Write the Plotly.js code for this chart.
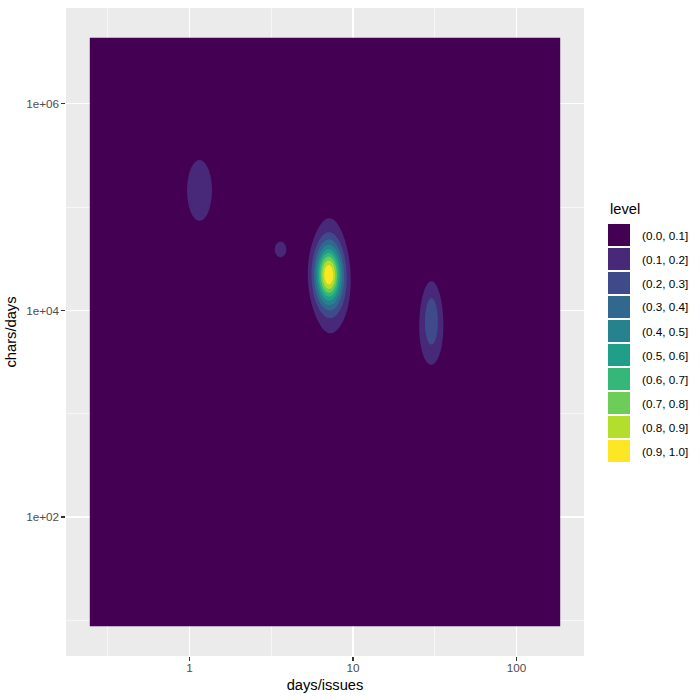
<!DOCTYPE html>
<html><head><meta charset="utf-8">
<script src="https://cdn.plot.ly/plotly-3.0.1.min.js"></script>
<style>body{margin:0;background:#fff}#chart{width:700px;height:700px}</style>
</head><body><div id="chart"></div>
<script>
// observed extent of the data
const daysExtent  = [0.2445, 185.8];     // days/issues
const charsExtent = [8.7, 4400000];      // chars/days

// density peaks (location, relative height, spread in decades)
const peakDays       = [7.08, 7.18, 8.63, 1.151, 3.603, 30.2, 29.8];
const peakChars      = [22320, 21830, 12780, 145300, 38980, 8550, 5240];
const peakHeight     = [1.0, 0.30, 0.05, 0.22, 0.15, 0.28, 0.10];
const spreadDaysDec  = [0.055, 0.073, 0.055, 0.0746, 0.067, 0.043, 0.098];
const spreadCharsDec = [0.184, 0.407, 0.213, 0.288, 0.145, 0.252, 0.339];

// contour levels
const levelBreaks = [0.1, 0.2, 0.3, 0.4, 0.5, 0.6, 0.7, 0.8, 0.9];
const levelLabels = ["(0.0, 0.1]", "(0.1, 0.2]", "(0.2, 0.3]", "(0.3, 0.4]", "(0.4, 0.5]",
                     "(0.5, 0.6]", "(0.6, 0.7]", "(0.7, 0.8]", "(0.8, 0.9]", "(0.9, 1.0]"];
const levelColors = ["#440154", "#482878", "#3E4A89", "#31688E", "#26828E",
                     "#1F9E89", "#35B779", "#6DCD59", "#B4DE2C", "#FDE725"];

// axis ticks
const xTickVals = [1, 10, 100];
const xTickText = ["1", "10", "100"];
const yTickVals = [100, 10000, 1000000];
const yTickText = ["1e+02", "1e+04", "1e+06"];

// ---- build density grid on log10 scale ----
const L = Math.log10;
const N = 320;
const xlo = L(daysExtent[0]), xhi = L(daysExtent[1]);
const ylo = L(charsExtent[0]), yhi = L(charsExtent[1]);
const gx = [], gy = [];
for (let i = 0; i < N; i++) { gx.push(xlo + (xhi - xlo) * i / (N - 1)); gy.push(ylo + (yhi - ylo) * i / (N - 1)); }
const px = peakDays.map(L), py = peakChars.map(L);
let z = [], zmax = 0;
for (let j = 0; j < N; j++) {
  const row = [];
  for (let i = 0; i < N; i++) {
    let s = 0;
    for (let k = 0; k < peakHeight.length; k++) {
      const dx = (gx[i] - px[k]) / spreadDaysDec[k], dy = (gy[j] - py[k]) / spreadCharsDec[k];
      s += peakHeight[k] * Math.exp(-0.5 * (dx * dx + dy * dy));
    }
    row.push(s); if (s > zmax) zmax = s;
  }
  z.push(row);
}
z = z.map(r => r.map(v => v / zmax));

const step = levelBreaks[1] - levelBreaks[0];
const colorscale = levelColors.map((c, i) => [i / (levelColors.length - 1), c]);

const trace = {
  type: 'contour', x: gx, y: gy, z: z,
  zmin: 0, zmax: 1, zauto: false,
  autocontour: false,
  contours: { start: levelBreaks[0], end: levelBreaks[levelBreaks.length - 1], size: step, coloring: 'fill', showlines: false },
  line: { width: 0, smoothing: 0 },
  colorscale: colorscale, showscale: false, hoverinfo: 'skip'
};

// ---- layout ----
const W = 700, H = 700;
const margin = { l: 66, r: 116, t: 8, b: 44, pad: 0 };
const plotW = W - margin.l - margin.r, plotH = H - margin.t - margin.b;
const xr = [xlo - 0.05 * (xhi - xlo), xhi + 0.05 * (xhi - xlo)];
const yr = [ylo - 0.05 * (yhi - ylo), yhi + 0.05 * (yhi - ylo)];
function minorVals(majors, range) {
  const m = majors.map(L), d = m[1] - m[0], out = [];
  out.push(m[0] - d / 2);
  for (let i = 0; i < m.length - 1; i++) out.push((m[i] + m[i + 1]) / 2);
  out.push(m[m.length - 1] + d / 2);
  return out.filter(v => v > range[0] && v < range[1]);
}
const font = 'Liberation Sans, Arial, sans-serif';
const axisCommon = {
  type: 'linear', showgrid: true, gridcolor: '#FFFFFF', gridwidth: 1.07, zeroline: false, showline: false,
  ticks: 'outside', ticklen: 3.67, tickwidth: 1.07, tickcolor: '#333333',
  tickfont: { family: font, size: 11.7, color: '#4D4D4D' }, automargin: false
};
const xaxis = Object.assign({}, axisCommon, {
  range: xr, tickmode: 'array', tickvals: xTickVals.map(L), ticktext: xTickText, ticklabelstandoff: -3,
  minor: { tickmode: 'array', tickvals: minorVals(xTickVals, xr), showgrid: true, gridcolor: '#FFFFFF', gridwidth: 0.53, ticks: '' },
  title: { text: 'days/issues', font: { family: font, size: 14.7, color: '#000000' }, standoff: 7 }
});
const yaxis = Object.assign({}, axisCommon, {
  range: yr, tickmode: 'array', tickvals: yTickVals.map(L), ticktext: yTickText,
  minor: { tickmode: 'array', tickvals: minorVals(yTickVals, yr), showgrid: true, gridcolor: '#FFFFFF', gridwidth: 0.53, ticks: '' },
  title: { text: 'chars/days', font: { family: font, size: 14.7, color: '#000000' }, standoff: 6 }
});

// legend drawn as shapes + annotations in paper coordinates
const pxX = p => (p - margin.l) / plotW;
const pxY = p => 1 - (p - margin.t) / plotH;
const shapes = [], annotations = [];
const keyX0 = 608, keyW = 22, keyTop = 224, keyStep = 24;
annotations.push({ xref: 'paper', yref: 'paper', x: pxX(keyX0), y: pxY(209), xanchor: 'left', yanchor: 'middle',
  text: 'level', showarrow: false, font: { family: font, size: 14.7, color: '#000000' } });
levelColors.forEach((c, i) => {
  const t = keyTop + i * keyStep;
  shapes.push({ type: 'rect', xref: 'paper', yref: 'paper', x0: pxX(keyX0), x1: pxX(keyX0 + keyW),
    y0: pxY(t), y1: pxY(t + keyW), fillcolor: c, line: { width: 0 }, layer: 'above' });
  annotations.push({ xref: 'paper', yref: 'paper', x: pxX(640), y: pxY(t + keyW / 2), xanchor: 'left', yanchor: 'middle',
    text: levelLabels[i], showarrow: false, font: { family: font, size: 11.7, color: '#000000' } });
});

const layout = {
  width: W, height: H, margin: margin, paper_bgcolor: '#FFFFFF', plot_bgcolor: '#EBEBEB',
  xaxis: xaxis, yaxis: yaxis, shapes: shapes, annotations: annotations, showlegend: false,
  font: { family: font }
};
Plotly.newPlot('chart', [trace], layout, { displayModeBar: false, staticPlot: true });
</script>
</body></html>
